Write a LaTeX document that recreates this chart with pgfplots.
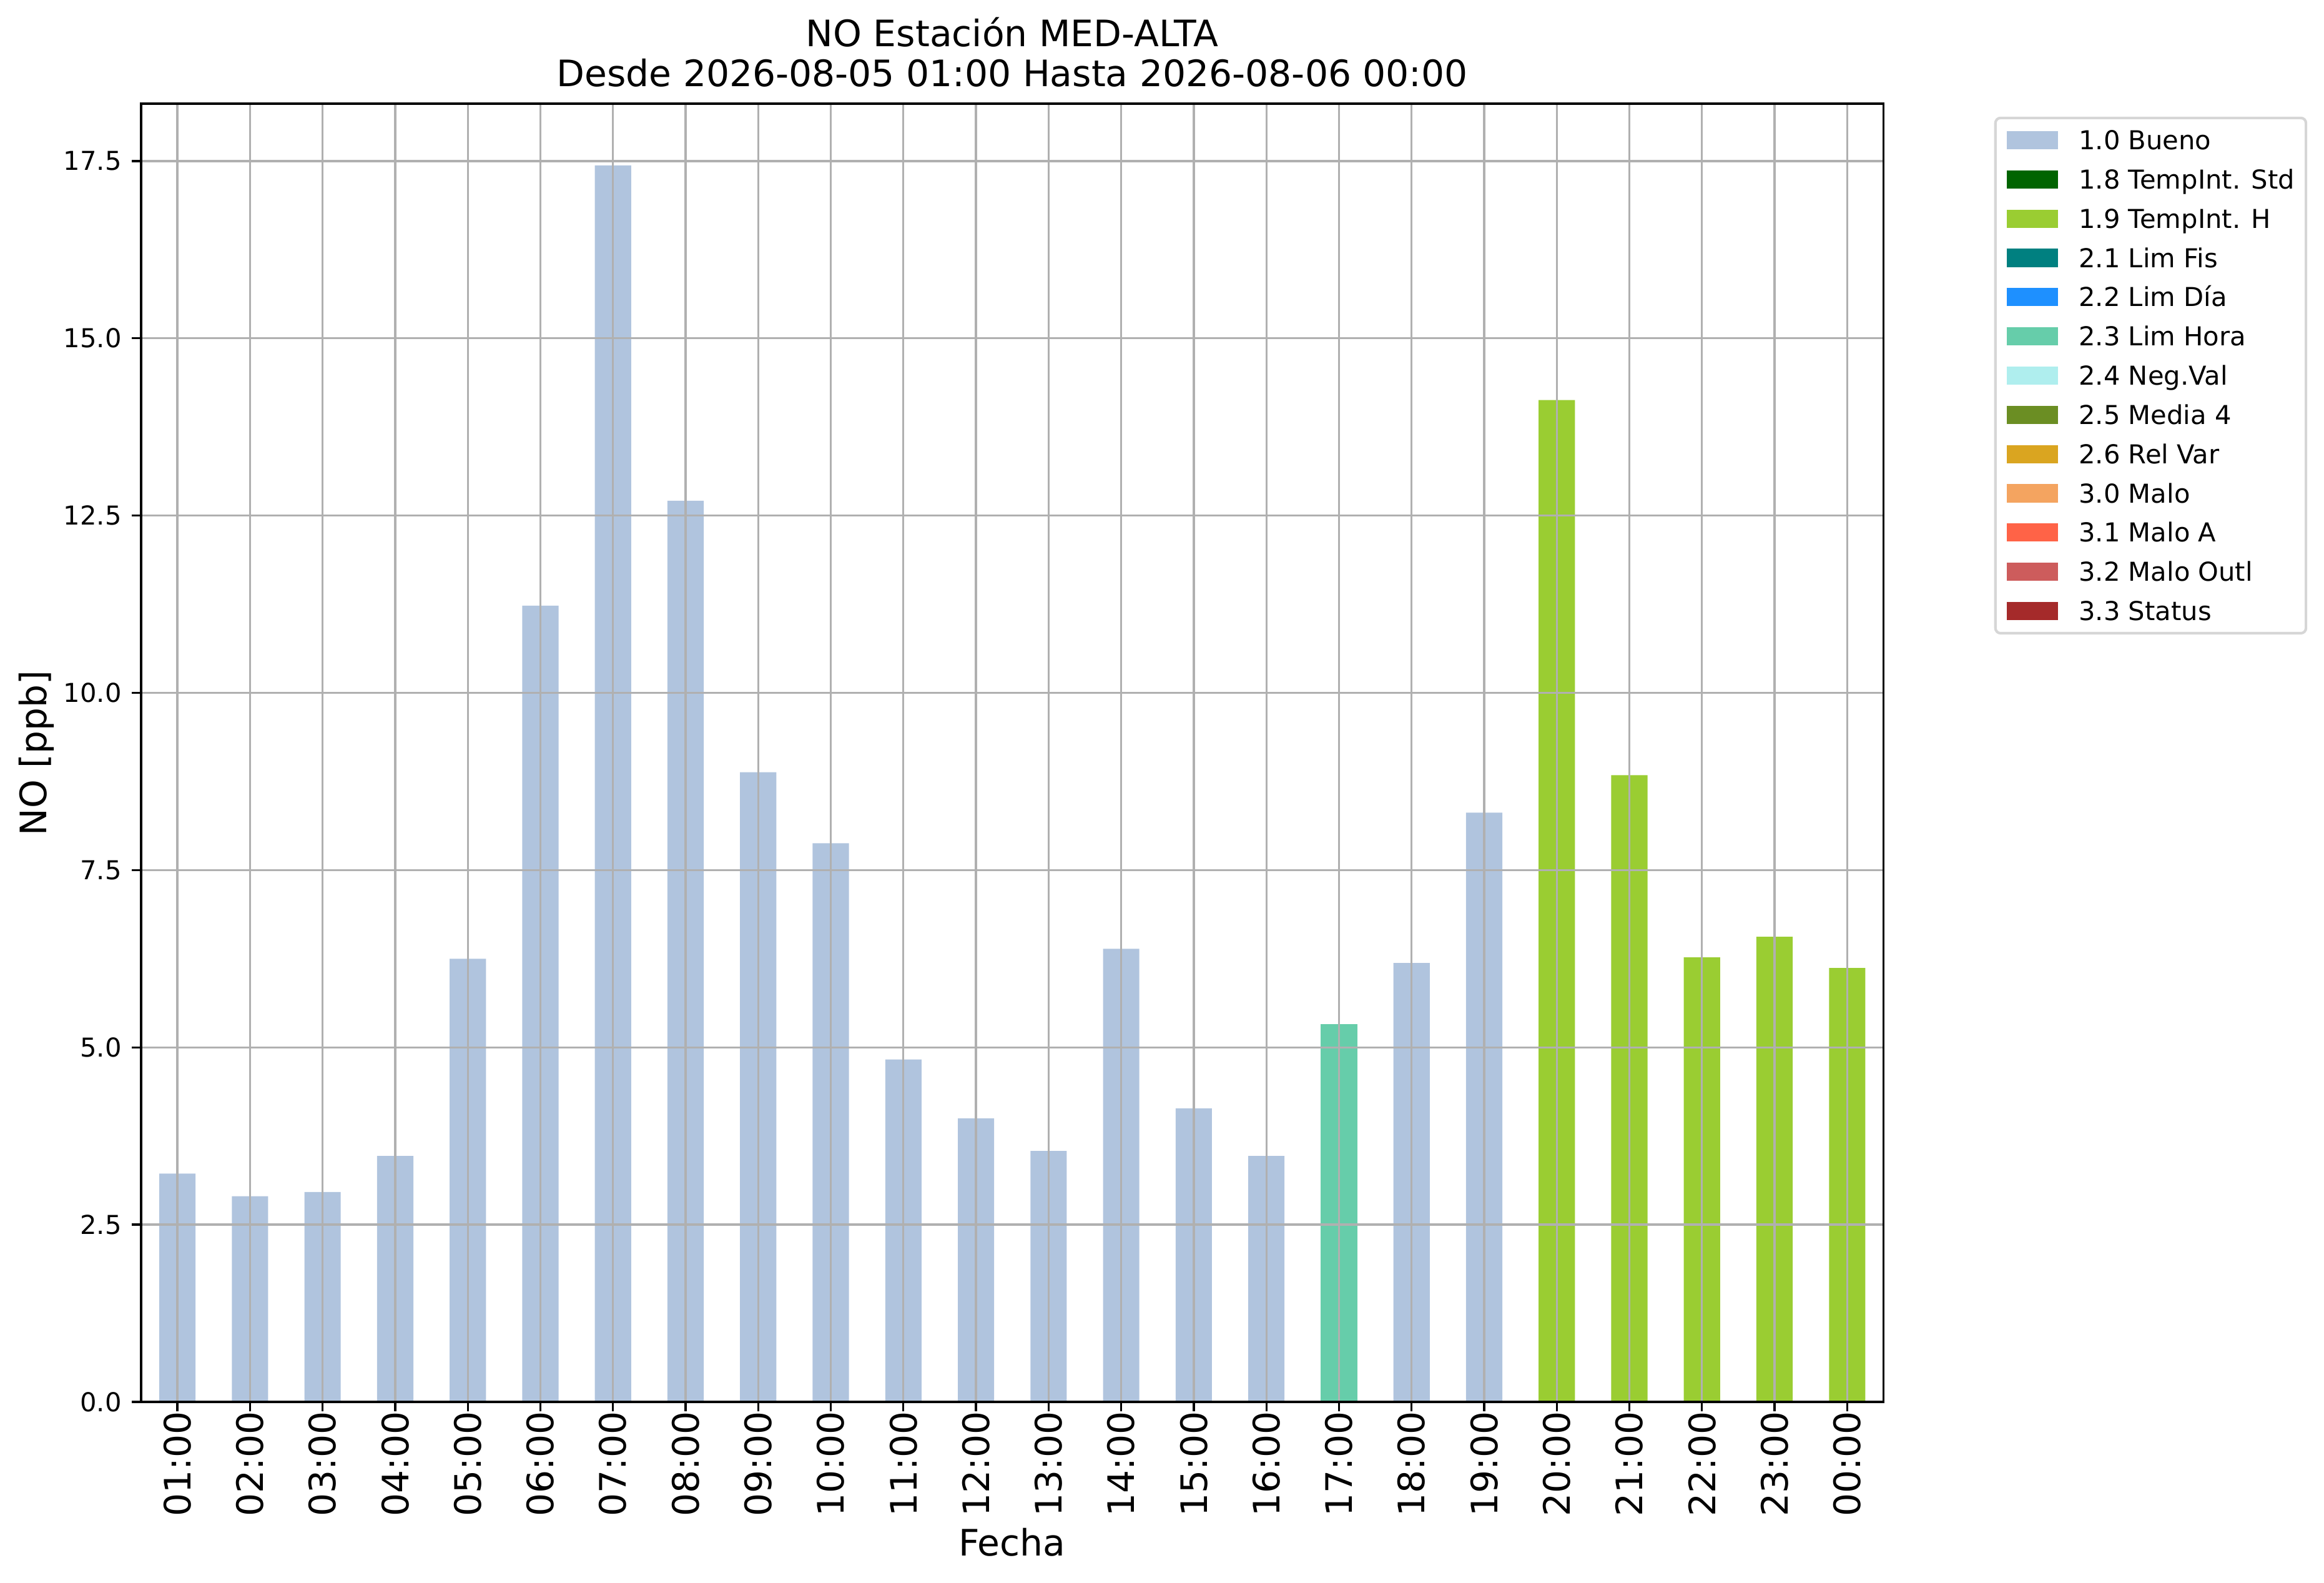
\documentclass[border=0pt]{standalone}
\usepackage{pgfplots}
\pgfplotsset{compat=1.18}
\usepackage{fontspec}
\setmainfont{DejaVu Sans}
\definecolor{bueno}{HTML}{B0C4DE}
\definecolor{tstd}{HTML}{006400}
\definecolor{th}{HTML}{9ACD32}
\definecolor{limfis}{HTML}{008080}
\definecolor{limdia}{HTML}{1E90FF}
\definecolor{limhora}{HTML}{66CDAA}
\definecolor{negval}{HTML}{AFEEEE}
\definecolor{media}{HTML}{6B8E23}
\definecolor{relvar}{HTML}{DAA520}
\definecolor{malo}{HTML}{F4A460}
\definecolor{maloa}{HTML}{FF6347}
\definecolor{maloout}{HTML}{CD5C5C}
\definecolor{status}{HTML}{A52A2A}
\definecolor{gridgray}{HTML}{B0B0B0}
\definecolor{legendgray}{HTML}{D6D6D6}

\pgfplotstableread{
x y
0 3.22
1 2.90
2 2.96
3 3.47
4 6.25
5 11.23
6 17.44
7 12.71
8 8.88
9 7.88
10 4.83
11 4.00
12 3.54
13 6.39
14 4.14
15 3.47
17 6.19
18 8.31
}\bueno
\pgfplotstableread{
x y
16 5.33
}\limhora
\pgfplotstableread{
x y
19 14.13
20 8.84
21 6.27
22 6.56
23 6.12
}\tempinth

\begin{document}
\begin{tikzpicture}
\path[use as bounding box] (0,0) rectangle (893.28pt,608.16pt);
\begin{axis}[
  at={(54.24pt,69.36pt)}, anchor=south west,
  scale only axis, width=669.7pt, height=498.96pt,
  xmin=-0.5, xmax=23.5, ymin=0, ymax=18.31,
  xtick={0,...,23},
  xticklabels={01:00,02:00,03:00,04:00,05:00,06:00,07:00,08:00,09:00,10:00,11:00,12:00,13:00,14:00,15:00,16:00,17:00,18:00,19:00,20:00,21:00,22:00,23:00,00:00},
  ytick={0,2.5,5,7.5,10,12.5,15,17.5},
  axis on top,
  grid=major,
  major grid style={draw=gridgray, line width=0.8pt},
  axis line style={line width=0.8pt, black},
  tick align=outside, tick pos=left,
  major tick length=3.5pt,
  every tick/.style={black, line width=0.8pt},
  xticklabel style={rotate=90, anchor=east, inner sep=0pt, font=\fontsize{14}{16.8}\selectfont},
  yticklabel style={anchor=east, inner sep=0pt, xshift=-3.8pt, font=\fontsize{10}{12}\selectfont,
    /pgf/number format/fixed, /pgf/number format/fixed zerofill,
    /pgf/number format/precision=1, /pgf/number format/assume math mode=true},
  ybar, bar width=0.5,
  legend cell align=left,
  legend image code/.code={\fill[#1, draw=none, sharp corners] (0pt,-3.5pt) rectangle (19.8pt,3.5pt);},
  legend style={at={(1.0635,0.990)}, anchor=north west, draw=legendgray, line width=1pt,
    rounded corners=2pt, fill=white, inner xsep=4.3pt, inner ysep=4.9pt,
    row sep=7.79pt, column sep=8pt, font=\fontsize{10}{12}\selectfont,
    nodes={inner sep=0pt, text height=7.29pt, text depth=0pt}},
]
\addplot[forget plot, fill=bueno, draw=none, bar shift=0pt] table[x=x,y=y] {\bueno};
\addplot[forget plot, fill=limhora, draw=none, bar shift=0pt] table[x=x,y=y] {\limhora};
\addplot[forget plot, fill=th, draw=none, bar shift=0pt] table[x=x,y=y] {\tempinth};
\addlegendimage{fill=bueno}\addlegendentry{1.0 Bueno}
\addlegendimage{fill=tstd}\addlegendentry{1.8 TempInt. Std}
\addlegendimage{fill=th}\addlegendentry{1.9 TempInt. H}
\addlegendimage{fill=limfis}\addlegendentry{2.1 Lim Fis}
\addlegendimage{fill=limdia}\addlegendentry{2.2 Lim Día}
\addlegendimage{fill=limhora}\addlegendentry{2.3 Lim Hora}
\addlegendimage{fill=negval}\addlegendentry{2.4 Neg.Val}
\addlegendimage{fill=media}\addlegendentry{2.5 Media 4}
\addlegendimage{fill=relvar}\addlegendentry{2.6 Rel Var}
\addlegendimage{fill=malo}\addlegendentry{3.0 Malo}
\addlegendimage{fill=maloa}\addlegendentry{3.1 Malo A}
\addlegendimage{fill=maloout}\addlegendentry{3.2 Malo Outl}
\addlegendimage{fill=status}\addlegendentry{3.3 Status}
\end{axis}
\node[anchor=base, font=\fontsize{14}{16.8}\selectfont] at (389.1pt,590.16pt) {NO Estación MED-ALTA};
\node[anchor=base, font=\fontsize{14}{16.8}\selectfont] at (389.1pt,575.0pt) {Desde 2026-08-05 01:00 Hasta 2026-08-06 00:00};
\node[anchor=base, font=\fontsize{14}{16.8}\selectfont] at (389.0pt,10.16pt) {Fecha};
\node[anchor=base, rotate=90, font=\fontsize{14}{16.8}\selectfont] at (17.76pt,318.7pt) {NO [ppb]};
\end{tikzpicture}
\end{document}
